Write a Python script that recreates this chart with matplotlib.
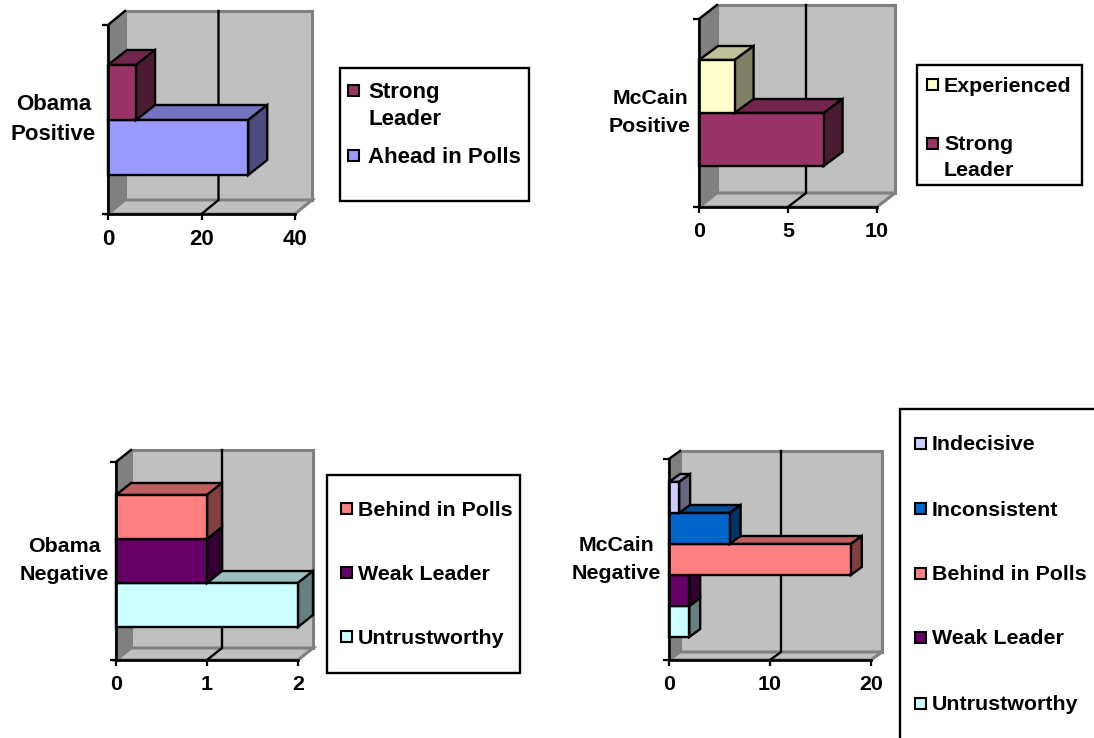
import matplotlib
matplotlib.use("Agg")
import matplotlib.pyplot as plt
from matplotlib.patches import Polygon, Rectangle
from matplotlib.colors import to_rgb
from matplotlib.transforms import Affine2D

plt.rcParams['font.family'] = ['Liberation Sans', 'DejaVu Sans']
plt.rcParams['font.weight'] = 'bold'

W, H = 1094, 738

# --- data -----------------------------------------------------------------
obama_pos_labels = ["Ahead in Polls", "Strong\nLeader"]
obama_pos_values = [30, 6]
mccain_pos_labels = ["Strong\nLeader", "Experienced"]
mccain_pos_values = [7, 2]
obama_neg_labels = ["Untrustworthy", "Weak Leader", "Behind in Polls"]
obama_neg_values = [2, 1, 1]
mccain_neg_labels = ["Untrustworthy", "Weak Leader", "Behind in Polls", "Inconsistent", "Indecisive"]
mccain_neg_values = [2, 2, 18, 6, 1]

colors = {"Ahead in Polls": "#9999FF", "Strong\nLeader": "#993366", "Experienced": "#FFFFCC",
          "Untrustworthy": "#CCFFFF", "Weak Leader": "#660066", "Behind in Polls": "#FF8080",
          "Inconsistent": "#0066CC", "Indecisive": "#CCCCFF"}

# --- layout (pixels) ------------------------------------------------------
panels = [
    dict(title="Obama\nPositive", labels=obama_pos_labels, values=obama_pos_values, xticks=[0, 20, 40],
         box=(108, 295, 25, 214), wall=(17, 14), depth=(19, 15), bars=(65, 175), pad=12, fs=16,
         leg=(340, 529, 68, 201), mark_x=353, text_x=368, text_y=[155, 90], line=27),
    dict(title="McCain\nPositive", labels=mccain_pos_labels, values=mccain_pos_values, xticks=[0, 5, 10],
         box=(699, 877, 19, 207), wall=(18, 14), depth=(19, 14), bars=(60, 166), pad=8, fs=15.4,
         leg=(917, 1082, 65, 185), mark_x=932, text_x=944, text_y=[143, 84], line=26),
    dict(title="Obama\nNegative", labels=obama_neg_labels, values=obama_neg_values, xticks=[0, 1, 2],
         box=(116, 298, 462, 660), wall=(15, 12), depth=(15, 12), bars=(495, 627), pad=7, fs=15.4,
         leg=(327, 520, 475, 673), mark_x=346, text_x=358, text_y=[636, 572, 508], line=26),
    dict(title="McCain\nNegative", labels=mccain_neg_labels, values=mccain_neg_values, xticks=[0, 10, 20],
         box=(669, 871, 459, 660), wall=(11, 8), depth=(11, 8), bars=(482, 637), pad=8, fs=15.4,
         leg=(900, 1110, 409, 760), mark_x=920, text_x=932, text_y=[703, 637, 573, 508, 443], line=26),
]

fig = plt.figure(figsize=(W / 100, H / 100), dpi=100, facecolor="white")
px = Affine2D().scale(1 / W, -1 / H).translate(0, 1) + fig.transFigure


def shade(col, f):
    return tuple(c * f for c in to_rgb(col))


for p in panels:
    left, right, top, bottom = p["box"]
    ax = fig.add_axes([left / W, 1 - bottom / H, (right - left) / W, (bottom - top) / H])
    ax.patch.set_visible(False)
    n = len(p["values"])
    unit = (p["bars"][1] - p["bars"][0]) / n
    y0 = -0.5 - (bottom - p["bars"][1]) / unit
    y1 = n - 0.5 + (p["bars"][0] - top) / unit
    xmax = p["xticks"][-1]
    ax.set_xlim(0, xmax)
    ax.set_ylim(y0, y1)
    sx = xmax / (right - left)
    sy = (y1 - y0) / (bottom - top)
    wdx, wdy = p["wall"][0] * sx, p["wall"][1] * sy
    ddx, ddy = p["depth"][0] * sx, p["depth"][1] * sy

    # walls and floor
    ax.add_patch(Polygon([(wdx, y0 + wdy), (xmax + wdx, y0 + wdy), (xmax + wdx, y1 + wdy), (wdx, y1 + wdy)],
                         fc="#C0C0C0", ec="#808080", lw=2.2, clip_on=False, zorder=1))
    ax.add_patch(Polygon([(0, y0), (wdx, y0 + wdy), (wdx, y1 + wdy), (0, y1)],
                         fc="#808080", ec="#808080", lw=1.6, clip_on=False, zorder=1.1))
    ax.add_patch(Polygon([(0, y0), (xmax, y0), (xmax + wdx, y0 + wdy), (wdx, y0 + wdy)],
                         fc="#C0C0C0", ec="#808080", lw=2.2, clip_on=False, zorder=1.1))
    ax.plot([0, wdx], [y1, y1 + wdy], color="black", lw=1.7, clip_on=False, zorder=1.3)

    # gridlines on back wall and floor
    for t in p["xticks"][1:-1]:
        ax.plot([t, t + wdx, t + wdx], [y0, y0 + wdy, y1 + wdy], color="black", lw=1.7,
                clip_on=False, zorder=1.2, solid_joinstyle="miter")

    # bars: lowest first, so that upper bars cover the top faces beneath them
    for i, (lab, v) in enumerate(zip(p["labels"], p["values"])):
        c = colors[lab]
        z = 2 + i
        lo, hi = i - 0.5, i + 0.5
        ax.add_patch(Polygon([(0, hi), (v, hi), (v + ddx, hi + ddy), (ddx, hi + ddy)],
                             fc=shade(c, 0.75), ec="black", lw=1.7, clip_on=False, zorder=z))
        ax.add_patch(Polygon([(v, lo), (v + ddx, lo + ddy), (v + ddx, hi + ddy), (v, hi)],
                             fc=shade(c, 0.5), ec="black", lw=1.7, clip_on=False, zorder=z))
        ax.barh(i, v, height=1, color=c, edgecolor="black", linewidth=1.7, zorder=z + 0.5, clip_on=False)

    # axes
    for s in ("top", "right"):
        ax.spines[s].set_visible(False)
    for s in ("left", "bottom"):
        ax.spines[s].set_linewidth(1.9)
        ax.spines[s].set_zorder(20)
    ax.set_xticks(p["xticks"])
    ax.set_xticklabels([str(t) for t in p["xticks"]], fontsize=p["fs"], fontweight="bold")
    ax.tick_params(axis="x", length=4, width=1.6, pad=7, direction="out")
    ax.set_yticks([y0, y1])
    ax.set_yticklabels(["", ""])
    ax.tick_params(axis="y", which="major", length=4, width=1.6, direction="out")
    ax.set_yticks([(y0 + y1) / 2], minor=True)
    ax.set_yticklabels([p["title"]], minor=True, fontsize=p["fs"], fontweight="bold",
                       multialignment="center", linespacing=1.6)
    ax.tick_params(axis="y", which="minor", length=0, pad=p["pad"] * 0.72)
    for lbl in ax.get_yticklabels(minor=True):
        lbl.set_verticalalignment("center")

    # legend box, drawn entry by entry to keep the reference's uneven spacing
    lx0, lx1, ly0, ly1 = p["leg"]
    fig.add_artist(Rectangle((lx0, ly0), lx1 - lx0, ly1 - ly0, fc="white", ec="black", lw=1.7,
                             transform=px, zorder=5))
    for lab, ty in zip(p["labels"], p["text_y"]):
        m = 11
        fig.add_artist(Rectangle((p["mark_x"] - m / 2, ty - m / 2), m, m, fc=colors[lab], ec="black",
                                 lw=1.5, transform=px, zorder=6))
        for k, part in enumerate(lab.split("\n")):
            fig.text(p["text_x"], ty + k * p["line"], part, transform=px, ha="left", va="center_baseline",
                     fontsize=p["fs"], fontweight="bold", color="black", zorder=6)

fig.savefig("out.png", dpi=100)
